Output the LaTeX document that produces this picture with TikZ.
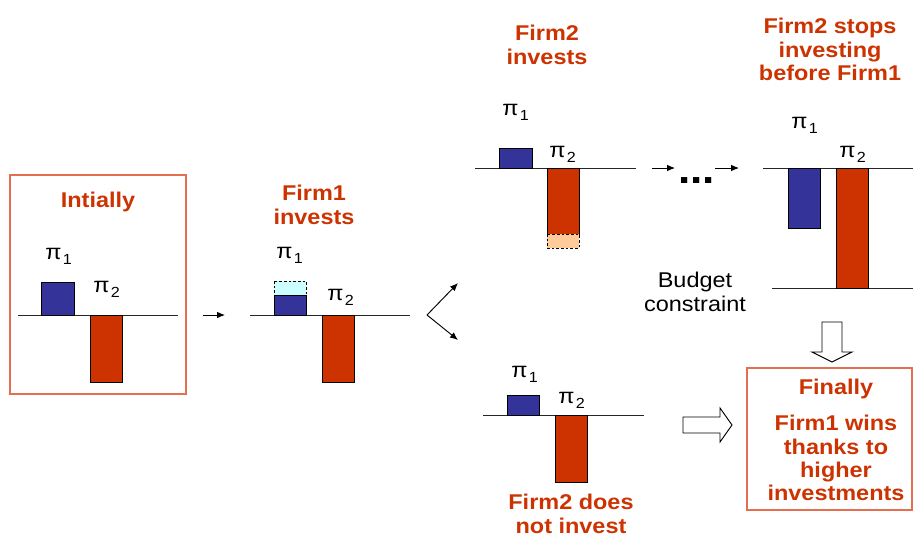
\documentclass[tikz,border=0pt]{standalone}
\usepackage{fontspec}
\setmainfont{Liberation Sans}[FakeStretch=1.1]
\usepackage{xcolor}
\usetikzlibrary{arrows.meta}
\definecolor{firmred}{RGB}{204,51,0}
\definecolor{firmblue}{RGB}{51,51,153}
\definecolor{gaincyan}{RGB}{204,255,255}
\definecolor{gainpeach}{RGB}{255,204,153}
\definecolor{boxred}{RGB}{228,110,80}
\newcommand{\profit}[1]{π\kern1pt\raisebox{-3.8pt}{\fontsize{11}{11}\selectfont #1}}

\begin{document}
\begin{tikzpicture}[x=0.75pt,y=-0.75pt,
  heading/.style={anchor=north,inner sep=0pt,align=center,text=firmred,font=\fontsize{16}{17.5}\selectfont\bfseries},
  pilabel/.style={anchor=base west,inner sep=0pt,font=\fontsize{16}{17}\selectfont},
  bar/.style={draw=black,line width=0.7pt},
  gain/.style={bar,dashed,dash pattern=on 2pt off 1.5pt},
  axis/.style={draw=black!85,line width=0.7pt},
  arr/.style={-{Latex[length=6pt,width=5pt]},line width=0.7pt},
  hollow/.style={draw=black,fill=white,line width=0.7pt}]
  \useasboundingbox (0,0) rectangle (913,536);

  % boxes
  \draw[boxred,line width=0.8pt] (10,175) rectangle (186,394);
  \draw[boxred,line width=0.8pt] (747,368) rectangle (912,510);

  % axes
  \draw[axis] (18,315) -- (178,315);
  \draw[axis] (250,315) -- (410,315);
  \draw[axis] (475,168) -- (636,168);
  \draw[axis] (763,168) -- (913,168);
  \draw[axis] (772,288) -- (913,288);
  \draw[axis] (483,415) -- (644,415);

  % bars
  \filldraw[bar,fill=firmblue] (41,282) rectangle (74,315);
  \filldraw[bar,fill=firmred] (90,315) rectangle (122,382);
  \filldraw[gain,fill=gaincyan] (274,281) rectangle (306,295);
  \filldraw[bar,fill=firmblue] (274,295) rectangle (306,315);
  \filldraw[bar,fill=firmred] (322,315) rectangle (354,382);
  \filldraw[bar,fill=firmblue] (499,148) rectangle (532,168);
  \filldraw[bar,fill=firmred] (547,168) rectangle (579,234);
  \filldraw[gain,fill=gainpeach] (547,234) rectangle (579,248);
  \filldraw[bar,fill=firmblue] (788,168) rectangle (820,228);
  \filldraw[bar,fill=firmred] (836,168) rectangle (868,288);
  \filldraw[bar,fill=firmblue] (507,395) rectangle (539,415);
  \filldraw[bar,fill=firmred] (555,415) rectangle (587,482);

  % profit labels
  \foreach \n/\x/\y/\i in {p1a/45/259/1, p2a/93/292/2, p1b/276/258/1, p2b/327/300/2,
    p1c/502/115/1, p2c/549/157/2, p1d/791/128/1, p2d/839/157/2, p1e/511/377/1, p2e/558/403/2}
    \node[pilabel] (\n) at (\x,\y) {\profit{\i}};

  % titles
  \node[heading] (init) at (98,192) {Intially};
  \node[heading] (firm1inv) at (314,185) {Firm1\\invests};
  \node[heading] (firm2inv) at (547,25) {Firm2\\invests};
  \node[heading] (firm2stop) at (830,18) {Firm2 stops\\investing\\before Firm1};
  \node[heading] (firm2not) at (571,494) {Firm2 does\\not invest};
  \node[heading] (final) at (836,379) {Finally};
  \node[heading] (wins) at (836,415) {Firm1 wins\\thanks to\\higher\\investments};
  \node[anchor=north,inner sep=0pt,align=center,font=\fontsize{16}{17.5}\selectfont] (budget) at (695,272) {Budget\\constraint};
  \node[anchor=base west,inner sep=0pt,font=\fontsize{30}{30}\selectfont\bfseries] (dots) at (678,183) {...};

  % arrows
  \coordinate (s1) at (203,315); \coordinate (e1) at (225,315);
  \coordinate (split) at (427,315);
  \coordinate (up) at (458,283); \coordinate (down) at (458,340);
  \coordinate (s2) at (652,168); \coordinate (e2) at (675,168);
  \coordinate (s3) at (715,168); \coordinate (e3) at (739,168);
  \draw[arr] (s1) -- (e1);
  \draw[arr] (split) -- (up);
  \draw[arr] (split) -- (down);
  \draw[arr] (s2) -- (e2);
  \draw[arr] (s3) -- (e3);

  % block arrows
  \draw[hollow] (683,417) -- (720,417) -- (720,408) -- (732,425) -- (720,442) -- (720,433) -- (683,433) -- cycle;
  \draw[hollow] (822,322) -- (842,322) -- (842,352) -- (852,352) -- (832,362) -- (812,352) -- (822,352) -- cycle;
\end{tikzpicture}
\end{document}
